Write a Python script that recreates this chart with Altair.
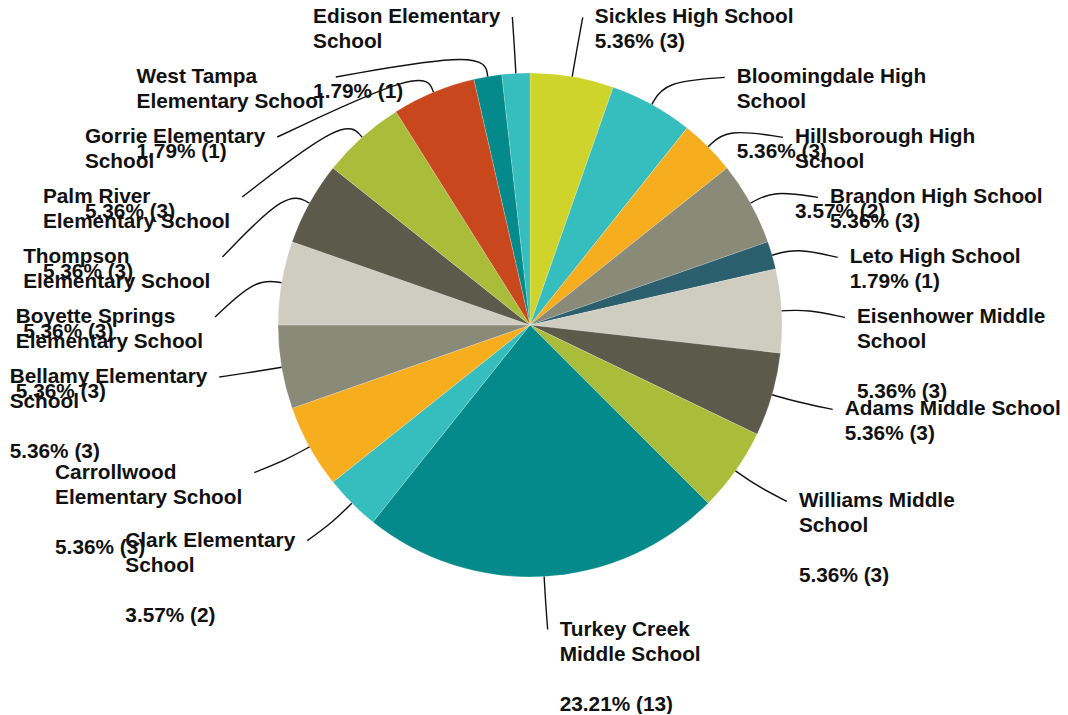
import math
import altair as alt
import pandas as pd

# ---------------- data ----------------
schools = [
    "Sickles High School", "Bloomingdale High School", "Hillsborough High School",
    "Brandon High School", "Leto High School", "Eisenhower Middle School",
    "Adams Middle School", "Williams Middle School", "Turkey Creek Middle School",
    "Clark Elementary School", "Carrollwood Elementary School", "Bellamy Elementary School",
    "Boyette Springs Elementary School", "Thompson Elementary School",
    "Palm River Elementary School", "Gorrie Elementary School",
    "West Tampa Elementary School", "Edison Elementary School",
]
counts = [3, 3, 2, 3, 1, 3, 3, 3, 13, 2, 3, 3, 3, 3, 3, 3, 1, 1]
name_lines = [
    ["Sickles High School"],
    ["Bloomingdale High", "School", ""],
    ["Hillsborough High", "School", ""],
    ["Brandon High School"],
    ["Leto High School"],
    ["Eisenhower Middle", "School", ""],
    ["Adams Middle School"],
    ["Williams Middle", "School", ""],
    ["Turkey Creek", "Middle School", ""],
    ["Clark Elementary", "School", ""],
    ["Carrollwood", "Elementary School", ""],
    ["Bellamy Elementary", "School", ""],
    ["Boyette Springs", "Elementary School", ""],
    ["Thompson", "Elementary School", ""],
    ["Palm River", "Elementary School", ""],
    ["Gorrie Elementary", "School", ""],
    ["West Tampa", "Elementary School", ""],
    ["Edison Elementary", "School", ""],
]
colors = [
    "#ced42b", "#36bdbe", "#f6ae1f", "#8a8a78", "#2c5f6d", "#cfcdbf",
    "#5c5a4b", "#aabd3a", "#048a8a", "#36bdbe", "#f6ae1f", "#8a8a78",
    "#cfcdbf", "#5c5a4b", "#aabd3a", "#c9471c", "#048a8a", "#36bdbe",
]

# ---------------- layout constants ----------------
W, H = 1052, 706          # plot area (page coords 8..1060, 8..714)
CX, CY, R = 530, 325, 252  # pie centre / radius in page pixels
R_TOP, R_BOT, R_X = 312, 305, 315
Y_MIN = 17
GAP = 60
FS, LH = 20.8, 25

ARIAL_BOLD = {
    " ": 278, "a": 556, "b": 611, "c": 556, "d": 611, "e": 556, "f": 333, "g": 611,
    "h": 611, "i": 278, "j": 278, "k": 556, "l": 278, "m": 889, "n": 611, "o": 611,
    "p": 611, "q": 611, "r": 389, "s": 556, "t": 333, "u": 611, "v": 556, "w": 778,
    "x": 556, "y": 556, "z": 500, "A": 722, "B": 722, "C": 722, "D": 722, "E": 667,
    "F": 611, "G": 778, "H": 722, "I": 278, "J": 556, "K": 722, "L": 611, "M": 833,
    "N": 722, "O": 778, "P": 667, "Q": 778, "R": 722, "S": 667, "T": 611, "U": 722,
    "V": 667, "W": 944, "X": 667, "Y": 667, "Z": 611, "%": 889, "(": 333, ")": 333,
    ".": 278,
}


def text_width(s):
    return sum(ARIAL_BOLD.get(ch, 556) for ch in s) * FS / 1000.0


total = sum(counts)
mids = []
cum = 0
for c in counts:
    mids.append((cum + c / 2.0) / total * 2 * math.pi)
    cum += c

labels = []
for names, c in zip(name_lines, counts):
    labels.append(names + ["%.2f%% (%d)" % (c / total * 100, c)])

ideal_y = []
for a in mids:
    ry = R_TOP if math.cos(a) > 0 else R_BOT
    ideal_y.append(max(CY - ry * math.cos(a), Y_MIN))

right = [i for i, a in enumerate(mids) if a < math.pi]
left = sorted([i for i, a in enumerate(mids) if a >= math.pi], key=lambda i: -mids[i])

end_y, pushed = {}, {}
for side in (right, left):
    prev = None
    for i in side:
        y = ideal_y[i]
        p = False
        if prev is not None and y < prev + GAP:
            y = prev + GAP
            p = True
        end_y[i], pushed[i] = y, p
        prev = y

line_rows, text_rows = [], []
for i, a in enumerate(mids):
    sgn = 1 if a < math.pi else -1
    ye = end_y[i]
    if pushed[i]:
        dy = ye - CY
        xe = CX + sgn * math.sqrt(max(R_X ** 2 - dy ** 2, 0))
    else:
        xe = CX + R_X * math.sin(a)
    p0 = (CX + R * math.sin(a), CY - R * math.cos(a))
    p1 = (CX + (R + 26) * math.sin(a), CY - (R + 26) * math.cos(a))
    for k, (px, py) in enumerate([p0, p1, (xe, ye)]):
        line_rows.append({"school": schools[i], "k": k, "px": px, "py": py})
    block_w = max(text_width(s) for s in labels[i])
    tx = xe + 12 if sgn > 0 else xe - 12 - block_w
    for j, s in enumerate(labels[i]):
        if s:
            text_rows.append({"px": tx, "py": ye + 6 + j * LH, "t": s})

pie_df = pd.DataFrame({"school": schools, "count": counts, "idx": list(range(len(schools)))})
line_df = pd.DataFrame(line_rows)
text_df = pd.DataFrame(text_rows)

xs = alt.Scale(domain=[8, 8 + W], zero=False, nice=False)
ys = alt.Scale(domain=[8 + H, 8], zero=False, nice=False)

pie = alt.Chart(pie_df).mark_arc(outerRadius=R, stroke="#ffffff", strokeWidth=0.4,
                                 strokeOpacity=0.5).encode(
    theta=alt.Theta("count:Q", stack=True),
    color=alt.Color("school:N", scale=alt.Scale(domain=schools, range=colors), legend=None),
    order=alt.Order("idx:Q"),
    x=alt.value(CX - 8),
    y=alt.value(CY - 8),
)

lines = alt.Chart(line_df).mark_line(interpolate="basis", color="#111111", strokeWidth=1.4).encode(
    x=alt.X("px:Q", scale=xs, axis=None),
    y=alt.Y("py:Q", scale=ys, axis=None),
    detail="school:N",
    order="k:Q",
)

texts = alt.Chart(text_df).mark_text(
    align="left", baseline="alphabetic", font="Liberation Sans", fontWeight="bold",
    fontSize=FS, color="#111111",
).encode(
    x=alt.X("px:Q", scale=xs, axis=None),
    y=alt.Y("py:Q", scale=ys, axis=None),
    text="t:N",
)

chart = alt.layer(pie, lines, texts).properties(
    width=W, height=H, padding=0, autosize=alt.AutoSizeParams(type="none"),
).configure_view(stroke=None)

chart.save("out.html", embed_options={"renderer": "svg", "actions": False})
